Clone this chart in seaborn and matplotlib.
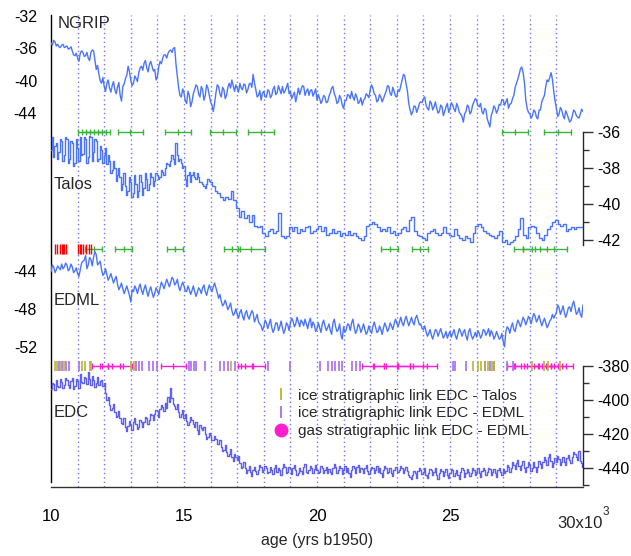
import numpy as np
import pandas as pd
import seaborn as sns
import matplotlib
matplotlib.use("Agg")
import matplotlib.pyplot as plt
from matplotlib.lines import Line2D

# ---------------- data ----------------
ages = np.round(np.linspace(10.0, 30.0, 201), 2)        # main samples
ages_mid = np.round(np.linspace(10.05, 29.95, 200), 2)  # in-between samples
ages_mid_talos = np.round(np.linspace(10.05, 15.95, 60), 2)

ngrip = [
 -35.3,-35.0,-35.7,-35.8,-35.6,-35.9,-35.7,-36.0,-36.3,-36.9,
 -37.2,-36.6,-36.5,-36.9,-37.2,-36.5,-36.3,-38.6,-39.2,-40.3,
 -40.7,-40.3,-40.9,-40.6,-41.1,-40.8,-41.8,-40.7,-39.7,-38.2,
 -39.9,-40.3,-39.7,-39.0,-38.2,-37.8,-38.4,-38.0,-38.2,-38.6,
 -39.5,-37.6,-37.2,-36.8,-36.6,-36.2,-36.0,-38.0,-40.9,-42.0,
 -41.5,-42.8,-41.8,-42.6,-41.1,-40.7,-42.0,-41.1,-41.8,-40.9,
 -42.6,-43.8,-41.5,-40.7,-42.0,-41.1,-41.8,-40.3,-39.9,-41.3,
 -40.9,-40.3,-41.1,-40.5,-41.1,-40.3,-39.2,-41.1,-41.8,-42.4,
 -41.3,-42.0,-41.3,-41.8,-40.7,-41.5,-41.1,-40.7,-41.3,-40.3,
 -41.3,-41.8,-42.6,-40.9,-41.1,-40.7,-41.3,-41.8,-41.1,-41.5,
 -42.4,-42.2,-42.4,-42.0,-42.6,-41.5,-40.7,-42.0,-42.6,-42.2,
 -43.4,-42.4,-41.8,-41.3,-42.4,-42.0,-42.6,-43.0,-42.2,-41.8,
 -41.1,-40.9,-41.8,-42.4,-42.0,-42.2,-41.3,-40.7,-41.8,-41.3,
 -42.0,-41.3,-39.9,-39.4,-41.3,-43.6,-43.8,-43.2,-43.4,-42.6,
 -42.2,-43.0,-43.6,-42.8,-43.2,-43.4,-43.8,-43.2,-43.8,-42.8,
 -43.4,-43.0,-43.8,-43.2,-44.1,-45.1,-43.8,-43.2,-43.8,-42.6,
 -42.4,-43.2,-43.8,-43.4,-44.7,-45.7,-43.8,-43.4,-43.6,-43.0,
 -42.4,-42.6,-43.4,-42.8,-41.8,-40.3,-39.2,-38.3,-40.3,-43.4,
 -44.1,-44.3,-43.8,-44.7,-43.6,-42.2,-40.7,-40.1,-39.0,-41.3,
 -43.4,-44.1,-43.6,-44.7,-44.1,-45.1,-44.3,-43.8,-44.5,-44.1,
 -43.8]

ngrip_mid = [
 -35.6,-35.2,-35.5,-35.9,-35.5,-35.8,-36.1,-35.8,-36.8,-36.6,
 -37.6,-36.3,-37.0,-36.5,-37.5,-36.2,-37.4,-38.1,-40.0,-39.6,
 -41.3,-39.9,-41.4,-40.1,-41.6,-40.2,-42.5,-40.4,-39.3,-38.9,
 -40.6,-39.4,-40.1,-38.4,-38.7,-37.5,-38.9,-37.6,-38.8,-39.9,
 -38.3,-37.9,-36.8,-37.2,-36.3,-36.5,-35.9,-39.5,-41.8,-41.0,
 -42.5,-41.3,-43.2,-41.6,-40.5,-41.6,-40.7,-42.4,-40.5,-41.8,
 -43.0,-42.8,-40.5,-41.6,-40.8,-42.2,-40.8,-40.9,-40.6,-40.5,
 -41.4,-40.9,-40.4,-41.5,-40.4,-40.8,-40.3,-42.0,-41.2,-41.5,
 -42.0,-41.1,-42.1,-41.0,-41.7,-40.6,-41.6,-41.5,-40.8,-41.6,
 -42.2,-41.4,-41.8,-41.7,-40.6,-41.8,-41.0,-41.2,-41.9,-41.0,
 -41.7,-42.8,-41.8,-42.7,-41.9,-40.9,-41.6,-42.8,-41.8,-43.0,
 -42.5,-41.7,-42.2,-42.0,-41.6,-42.8,-42.1,-42.4,-41.6,-42.1,
 -40.5,-41.6,-42.6,-41.7,-42.6,-41.7,-40.6,-41.6,-40.8,-41.9,
 -41.1,-40.6,-39.2,-40.4,-42.8,-44.2,-43.1,-43.9,-42.8,-42.7,
 -42.0,-43.4,-42.5,-43.6,-42.6,-44.0,-43.0,-44.3,-43.2,-43.9,
 -42.7,-43.5,-42.8,-43.9,-44.4,-44.1,-43.0,-44.1,-43.0,-42.2,
 -43.1,-42.8,-44.1,-43.6,-45.2,-44.3,-43.1,-44.0,-42.9,-42.3,
 -43.0,-42.2,-42.9,-42.2,-40.8,-39.8,-38.5,-39.0,-42.4,-43.9,
 -44.6,-43.6,-44.5,-43.6,-42.6,-41.8,-39.9,-39.6,-39.8,-42.5,
 -44.4,-43.3,-44.3,-43.7,-44.6,-44.9,-43.6,-44.3,-44.6,-43.5]

talos = [
 -37.0,-37.4,-36.6,-37.1,-36.5,-37.3,-36.4,-37.5,-36.6,-37.7,
 -36.9,-36.3,-37.2,-36.4,-37.4,-36.3,-37.1,-36.5,-37.5,-37.0,
 -37.3,-37.8,-37.6,-38.1,-38.0,-38.4,-38.5,-38.9,-39.0,-39.3,
 -38.8,-39.4,-38.9,-39.3,-38.8,-39.1,-38.6,-38.9,-38.5,-38.7,
 -38.4,-38.5,-38.2,-38.0,-37.8,-37.6,-37.5,-36.6,-37.6,-37.7,
 -37.9,-39.0,-38.2,-38.4,-38.5,-38.3,-38.8,-38.9,-39.1,-38.6,
 -38.8,-39.0,-39.3,-39.4,-39.6,-39.8,-39.6,-39.7,-39.3,-39.8,
 -40.2,-40.7,-40.4,-40.8,-40.6,-41.0,-40.6,-41.2,-41.3,-41.2,
 -41.6,-41.8,-41.5,-41.4,-41.6,-41.5,-40.5,-41.8,-41.9,-41.8,
 -41.3,-41.5,-41.3,-41.6,-41.4,-41.5,-41.3,-41.2,-41.6,-41.5,
 -41.4,-41.2,-41.5,-41.3,-41.7,-41.6,-41.4,-41.6,-41.5,-41.8,
 -41.6,-41.7,-41.5,-41.7,-41.6,-41.8,-41.9,-42.0,-41.8,-41.2,
 -41.1,-41.0,-41.1,-41.3,-41.5,-41.4,-41.5,-41.3,-41.6,-41.5,
 -41.7,-41.6,-41.4,-41.3,-41.5,-40.9,-40.7,-41.5,-41.7,-41.8,
 -41.9,-42.0,-41.6,-41.5,-41.4,-41.6,-41.7,-41.6,-41.3,-41.6,
 -41.7,-41.8,-41.4,-41.7,-41.9,-42.0,-41.8,-41.9,-42.1,-41.6,
 -41.2,-41.1,-41.3,-41.5,-41.6,-41.7,-41.8,-41.9,-41.7,-41.5,
 -42.1,-42.0,-42.2,-42.1,-42.0,-41.8,-41.4,-40.8,-41.7,-41.9,
 -41.3,-41.2,-41.3,-41.6,-41.9,-42.0,-41.7,-41.4,-41.2,-41.0,
 -40.9,-41.1,-41.2,-41.1,-41.5,-41.4,-41.3,-41.4,-41.3,-41.3,
 -41.3]

talos_mid = [
 -36.3,-36.8,-37.5,-36.4,-37.6,-36.3,-37.7,-36.5,-37.9,-36.4,
 -37.6,-37.3,-36.3,-37.7,-36.2,-37.6,-36.4,-37.6,-36.8,-37.7,
 -36.9,-37.3,-38.3,-37.6,-38.7,-38.0,-39.2,-38.3,-39.5,-38.5,
 -39.6,-38.4,-39.6,-38.4,-39.5,-38.3,-39.2,-38.3,-39.0,-38.3,
 -38.6,-38.1,-38.4,-37.7,-37.9,-37.3,-37.8,-37.3,-37.5,-38.0,
 -38.6,-38.4,-38.8,-38.2,-38.6,-38.5,-38.8,-39.0,-38.9,-38.7]

edml = [
 -44.1,-43.6,-43.9,-43.7,-43.3,-43.6,-43.4,-43.8,-43.6,-44.0,
 -44.3,-43.9,-43.0,-42.4,-43.4,-42.8,-42.6,-42.3,-43.2,-43.9,
 -44.3,-44.4,-44.7,-44.8,-44.9,-45.4,-45.7,-45.9,-46.0,-46.1,
 -47.3,-46.2,-45.9,-45.8,-46.0,-45.9,-46.2,-46.1,-46.3,-46.4,
 -46.1,-45.8,-45.5,-45.4,-45.3,-45.2,-44.9,-45.3,-45.7,-45.6,
 -45.6,-46.2,-46.0,-46.1,-46.2,-46.3,-46.0,-45.8,-46.2,-46.0,
 -45.9,-45.7,-45.8,-46.9,-47.2,-47.5,-47.6,-47.8,-48.2,-48.5,
 -48.6,-48.4,-48.8,-48.5,-48.8,-48.6,-48.5,-49.0,-49.4,-49.8,
 -49.9,-49.5,-49.6,-50.0,-50.1,-49.5,-49.9,-50.0,-50.2,-49.7,
 -49.5,-49.3,-49.6,-49.4,-49.2,-49.8,-49.6,-49.4,-50.0,-49.7,
 -50.1,-50.0,-49.6,-49.8,-50.0,-50.3,-49.5,-49.9,-50.2,-50.8,
 -49.9,-50.2,-49.7,-49.5,-50.0,-50.3,-49.9,-50.1,-50.2,-50.4,
 -50.3,-49.9,-49.9,-50.4,-50.2,-50.0,-49.9,-50.1,-49.8,-49.6,
 -49.5,-49.4,-49.5,-49.2,-49.3,-49.4,-49.4,-49.0,-49.2,-49.6,
 -50.2,-50.4,-50.6,-50.8,-50.7,-50.3,-50.5,-50.6,-50.8,-51.1,
 -50.4,-50.6,-50.8,-50.6,-50.4,-50.5,-50.9,-50.4,-50.8,-50.9,
 -51.0,-50.6,-50.8,-50.3,-50.5,-50.9,-50.6,-50.9,-50.8,-51.1,
 -51.5,-50.4,-50.1,-49.9,-50.2,-49.7,-49.5,-49.4,-49.2,-49.3,
 -49.1,-49.0,-48.8,-49.1,-49.3,-49.4,-49.5,-49.7,-49.1,-49.0,
 -48.4,-47.9,-48.2,-48.4,-48.5,-47.8,-47.6,-47.9,-48.4,-48.6,
 -47.6]

edml_mid = [
 -43.4,-44.2,-43.5,-43.9,-43.8,-43.2,-44.0,-43.3,-44.2,-43.7,
 -44.6,-43.2,-42.9,-43.8,-42.6,-43.5,-42.0,-43.4,-43.0,-44.5,
 -43.8,-45.0,-44.3,-45.3,-44.6,-46.0,-45.3,-46.4,-45.6,-46.6,
 -46.0,-45.6,-46.4,-45.4,-46.5,-45.5,-46.7,-45.7,-46.8,-45.8,
 -46.5,-45.2,-45.9,-44.9,-45.7,-44.7,-45.5,-44.9,-46.1,-45.2,
 -46.1,-45.6,-46.5,-45.6,-46.7,-45.8,-46.4,-45.5,-46.6,-45.5,
 -46.2,-45.3,-46.3,-46.5,-47.7,-47.1,-48.1,-47.4,-48.7,-48.0,
 -49.0,-48.1,-49.2,-48.2,-49.1,-48.2,-49.4,-48.6,-49.6,-50.3,
 -49.2,-50.1,-49.1,-50.5,-49.5,-50.3,-49.3,-50.6,-49.5,-50.3,
 -49.0,-49.9,-48.9,-49.9,-49.4,-49.1,-50.1,-49.0,-49.4,-50.4,
 -49.5,-50.5,-49.2,-50.3,-49.6,-50.7,-49.1,-50.4,-49.6,-51.2,
 -50.5,-49.6,-50.3,-49.1,-50.6,-49.6,-50.5,-49.6,-50.7,-49.8,
 -50.6,-49.4,-50.5,-49.8,-50.7,-49.5,-50.4,-49.5,-50.2,-49.1,
 -49.9,-48.9,-49.8,-48.8,-49.8,-48.9,-49.7,-48.7,-49.7,-50.1,
 -49.8,-50.9,-50.2,-51.2,-50.2,-50.9,-50.1,-51.1,-50.4,-50.7,
 -51.0,-50.2,-51.2,-50.1,-50.9,-50.2,-51.3,-50.1,-51.2,-50.5,
 -50.3,-51.1,-50.2,-50.8,-50.1,-50.3,-51.2,-50.4,-51.2,-50.6,
 -52.0,-49.9,-50.6,-49.5,-50.4,-49.2,-49.9,-48.9,-49.7,-48.8,
 -49.6,-48.5,-49.4,-48.7,-49.8,-49.0,-50.0,-49.3,-48.6,-48.7,
 -47.6,-48.6,-47.7,-48.9,-47.9,-48.3,-47.2,-48.6,-47.9,-48.9]

edc = [
 -394.0,-391.0,-388.5,-392.5,-389.5,-391.5,-388.5,-393.5,-387.5,-392.0,
 -389.0,-385.0,-390.5,-387.5,-384.0,-391.5,-388.5,-390.0,-391.5,-388.8,
 -390.0,-400.5,-403.5,-405.0,-407.5,-409.5,-411.0,-414.5,-416.0,-415.5,
 -415.2,-413.5,-414.2,-416.1,-413.0,-413.5,-411.0,-412.2,-409.3,-408.3,
 -407.0,-405.5,-404.4,-402.0,-398.6,-393.0,-402.5,-405.5,-407.3,-408.8,
 -410.8,-412.5,-413.2,-412.2,-416.1,-418.1,-415.2,-418.1,-420.0,-422.0,
 -421.0,-423.9,-423.0,-425.9,-427.9,-429.8,-430.8,-431.8,-433.7,-431.8,
 -435.7,-437.6,-439.6,-440.5,-441.5,-442.5,-441.5,-442.0,-441.5,-439.6,
 -441.5,-440.5,-442.5,-441.5,-440.5,-442.5,-441.5,-440.5,-439.6,-442.5,
 -441.0,-440.5,-441.5,-443.5,-442.0,-439.6,-442.5,-441.5,-440.5,-441.0,
 -441.5,-442.5,-440.5,-441.5,-443.5,-442.5,-440.5,-439.6,-441.5,-440.5,
 -441.5,-442.5,-443.5,-441.5,-440.5,-439.6,-442.5,-441.0,-440.5,-442.0,
 -441.5,-440.5,-441.5,-442.5,-443.5,-441.5,-440.5,-442.5,-443.5,-441.5,
 -439.6,-441.5,-440.5,-441.5,-442.0,-445.4,-444.5,-443.5,-442.0,-441.5,
 -442.5,-444.5,-443.5,-441.5,-442.5,-444.5,-443.5,-442.0,-442.5,-444.5,
 -443.0,-441.5,-443.5,-444.5,-442.5,-441.5,-443.5,-442.5,-443.0,-441.5,
 -442.5,-443.5,-442.0,-441.5,-442.5,-441.0,-442.5,-443.0,-441.5,-442.5,
 -441.0,-442.0,-439.6,-440.5,-438.6,-437.6,-439.0,-438.6,-440.0,-439.6,
 -438.6,-440.5,-439.6,-439.6,-438.0,-436.5,-435.5,-433.7,-436.0,-437.6,
 -436.6,-435.0,-437.0,-436.6,-434.5,-435.5,-433.7,-431.8,-435.7,-436.0,
 -439.6]

edc_mid = [
 -390.0,-394.5,-392.0,-388.0,-393.5,-387.5,-391.5,-389.0,-394.0,-388.0,
 -393.0,-389.5,-386.5,-391.0,-388.0,-386.0,-392.5,-387.0,-389.0,-392.0,
 -396.0,-398.5,-406.0,-402.5,-410.0,-406.5,-414.0,-411.0,-418.5,-412.5,
 -418.0,-411.0,-417.5,-412.0,-416.0,-410.5,-414.5,-408.5,-412.0,-406.0,
 -410.0,-403.5,-407.0,-405.0,-401.5,-399.0,-404.0,-402.5,-410.0,-406.0,
 -408.5,-415.0,-410.0,-414.5,-413.5,-420.0,-417.0,-416.0,-423.0,-419.5,
 -424.0,-421.5,-426.0,-424.0,-430.5,-427.0,-433.5,-429.0,-436.0,-434.0,
 -433.0,-440.5,-437.0,-443.5,-439.0,-445.0,-439.5,-444.0,-438.5,-442.5,
 -439.0,-443.5,-439.5,-444.0,-438.5,-440.0,-444.5,-438.0,-443.0,-439.5,
 -444.0,-438.5,-444.5,-440.0,-444.0,-438.0,-443.5,-439.0,-443.0,-438.5,
 -443.5,-439.0,-443.5,-439.5,-441.0,-444.0,-438.0,-443.0,-439.0,-444.0,
 -439.0,-440.0,-445.5,-439.0,-443.5,-438.5,-440.0,-443.5,-438.5,-444.0,
 -439.5,-443.5,-439.0,-440.0,-445.5,-439.0,-443.5,-440.0,-445.0,-439.5,
 -442.5,-439.0,-443.5,-439.5,-444.5,-447.0,-442.0,-446.0,-440.5,-444.0,
 -440.5,-446.0,-441.0,-444.5,-440.5,-446.5,-441.0,-445.0,-441.0,-446.0,
 -441.0,-445.0,-441.5,-446.5,-440.5,-445.5,-441.0,-445.0,-440.0,-444.5,
 -440.5,-445.5,-440.0,-444.5,-440.0,-444.5,-441.0,-445.5,-440.0,-444.5,
 -443.5,-438.5,-442.5,-436.5,-441.0,-435.5,-441.5,-436.0,-442.5,-437.0,
 -442.0,-437.0,-442.5,-436.0,-440.5,-434.0,-438.5,-432.0,-439.5,-434.5,
 -433.5,-438.5,-434.0,-438.5,-432.5,-437.5,-431.0,-434.0,-430.5,-437.5]

# stratigraphic link markers
talos_top_c = [11.45, 11.6, 11.75, 12.97, 14.78, 16.47, 17.9, 27.44, 29.05]
talos_top_hw = [0.45, 0.45, 0.45, 0.47, 0.5, 0.5, 0.5, 0.5, 0.5]
talos_bot_c = [11.6, 12.73, 14.66, 16.8, 17.53, 22.73, 23.88, 27.75, 28.2, 28.9]
talos_bot_hw = [0.32, 0.32, 0.31, 0.3, 0.5, 0.31, 0.31, 0.33, 0.45, 0.5]
red_ticks = [10.15, 10.24, 10.33, 10.4, 10.45, 10.5, 10.55,
             11.02, 11.08, 11.14, 11.2, 11.3, 11.42, 11.52]
olive_ticks = [10.14, 10.23, 10.36, 10.49, 11.15, 11.28, 11.45, 11.51, 13.01,
               13.12, 16.77, 25.85, 26.05, 26.18, 26.31, 26.44, 26.57, 26.64,
               28.09, 28.55, 28.68, 29.14]
purple_ticks = [10.3, 10.43, 10.58, 10.66, 11.04, 13.2, 13.3, 13.41, 13.67,
                13.83, 13.98, 15.2, 15.27, 15.37, 15.46, 15.79, 16.37, 16.5,
                16.64, 16.9, 18.14, 18.99, 20.1, 20.43, 20.56, 20.68, 20.82,
                20.94, 21.33, 21.47, 21.6, 25.1, 25.2, 25.62, 26.31, 26.51,
                26.64, 27.16, 27.36]
gas_c = [11.85, 12.3, 12.6, 14.6, 17.3, 17.6, 22.1, 22.6, 23.0, 23.6, 24.0,
         27.4, 27.9, 28.3, 28.6, 28.9, 29.2]
gas_hw = [0.3, 0.4, 0.45, 0.46, 0.27, 0.45, 0.42, 0.45, 0.5, 0.55, 0.5,
          0.27, 0.45, 0.5, 0.45, 0.45, 0.42]

major_x = [10, 15, 20, 25, 30]
x_labels = ["10", "15", "20", "25", ""]

def series(main, mid, mid_ages):
    df = pd.concat([pd.DataFrame({"age": ages, "val": main}),
                    pd.DataFrame({"age": mid_ages, "val": mid})])
    return df.sort_values("age").reset_index(drop=True)

df_ngrip = series(ngrip, ngrip_mid, ages_mid)
df_talos = series(talos, talos_mid, ages_mid_talos)
df_edml = series(edml, edml_mid, ages_mid)
df_edc = series(edc, edc_mid, ages_mid)

# ---------------- layout ----------------
W, H = 631, 556
X0, X1 = 51, 583      # pixel x of age 10 and 30
Y0, Y1 = 15, 487      # pixel y of plot top and bottom

sns.set_style("white")
plt.rcParams['font.family'] = ['Liberation Sans', 'DejaVu Sans']
plt.rcParams['axes.linewidth'] = 1.0

fig = plt.figure(figsize=(W / 100, H / 100), dpi=100)
rect = [X0 / W, 1 - Y1 / H, (X1 - X0) / W, (Y1 - Y0) / H]

def ylim_for(v_ref, p_ref, px_per_unit):
    top = v_ref + (p_ref - Y0) / px_per_unit
    bot = v_ref - (Y1 - p_ref) / px_per_unit
    return bot, top

# background axes: x axis, dotted lines, left spine
bg = fig.add_axes(rect)
bg.set_facecolor('none')
bg.set_xlim(10, 30)
bg.set_ylim(0, 1)
for s in ['top', 'right']:
    bg.spines[s].set_visible(False)
bg.spines['left'].set_bounds((Y1 - 482) / (Y1 - Y0), 1.0)
bg.spines['left'].set_color('black')
bg.spines['bottom'].set_color('#333333')
bg.set_yticks([])
bg.set_xticks(major_x)
bg.set_xticklabels(x_labels, fontsize=12)
bg.set_xticks(range(11, 30), minor=True)
bg.tick_params(axis='x', which='major', direction='out', length=8, width=1,
               pad=8, colors='#333333', labelcolor='black')
bg.tick_params(axis='x', which='minor', direction='out', length=5, width=1,
               colors='#333333')
for a in range(11, 30):
    bg.axvline(a, color='#7373ff', lw=1.0, ls=(0, (1, 2.2)), zorder=0)
bg.set_xlabel("age (yrs b1950)", fontsize=11.5, labelpad=6)

fig.text((X1 - 26) / W, 1 - 523 / H, "30x10", fontsize=12, ha='left', va='center')
fig.text((X1 + 20) / W, 1 - 512 / H, "3", fontsize=8.5, ha='left', va='center')

def panel(side, ylims):
    ax = fig.add_axes(rect, sharex=bg)
    ax.set_facecolor('none')
    ax.set_ylim(*ylims)
    for s in ['top', 'bottom', 'left', 'right']:
        ax.spines[s].set_visible(False)
    ax.tick_params(axis='x', which='both', bottom=False, labelbottom=False)
    if side == 'right':
        ax.yaxis.tick_right()
        ax.yaxis.set_label_position('right')
    ax.tick_params(axis='y', which='major', direction='out', length=7, width=1,
                   labelsize=11.5, pad=3, colors='#333333', labelcolor='black')
    ax.tick_params(axis='y', which='minor', direction='out', length=4, width=1,
                   colors='#333333')
    ax.set_xlabel("")
    ax.set_ylabel("")
    return ax

blue = '#4a74ff'
edc_col = '#5f5ff0'
LW = 1.0

# NGRIP
ax1 = panel('left', ylim_for(-32, 16, 8.1))
sns.lineplot(data=df_ngrip, x="age", y="val", ax=ax1, color=blue, lw=LW,
             estimator=None)
ax1.set_yticks([-32, -36, -40, -44])
ax1.set_yticks([-34, -38, -42, -46], minor=True)
ax1.set_yticklabels(["-32", "-36", "-40", "-44"])
ax1.text(10.25, -32.9, "NGRIP", fontsize=12, va='center', ha='left')

# Talos
ax2 = panel('right', ylim_for(-36, 132, 18))
sns.lineplot(data=df_talos, x="age", y="val", ax=ax2, color=blue, lw=LW,
             estimator=None, drawstyle='steps-mid')
ax2.spines['right'].set_visible(True)
ax2.spines['right'].set_bounds(-42.3, -36)
ax2.set_yticks([-36, -38, -40, -42])
ax2.set_yticks([-37, -39, -41], minor=True)
ax2.set_yticklabels(["-36", "-38", "-40", "-42"])
ax2.text(10.1, -38.9, "Talos", fontsize=12, va='center', ha='left')
ax2.errorbar(talos_top_c, [-36.0] * len(talos_top_c), xerr=talos_top_hw,
             fmt='|', color='#3cb43c', ms=4, capsize=2.5, lw=1, elinewidth=1)
ax2.errorbar(talos_bot_c, [-42.5] * len(talos_bot_c), xerr=talos_bot_hw,
             fmt='|', color='#3cb43c', ms=4, capsize=2.5, lw=1, elinewidth=1)
ax2.plot(red_ticks, [-42.5] * len(red_ticks), '|', color='red', ms=7, mew=1.0)

# EDML
ax3 = panel('left', ylim_for(-44, 270.7, 9.5))
sns.lineplot(data=df_edml, x="age", y="val", ax=ax3, color=blue, lw=LW,
             estimator=None)
ax3.set_yticks([-44, -48, -52])
ax3.set_yticks([-42, -46, -50, -54], minor=True)
ax3.set_yticklabels(["-44", "-48", "-52"])
ax3.text(10.1, -47.1, "EDML", fontsize=12, va='center', ha='left')

# EDC
ax4 = panel('right', ylim_for(-380, 365.5, 1.70))
sns.lineplot(data=df_edc, x="age", y="val", ax=ax4, color=edc_col, lw=LW,
             estimator=None, drawstyle='steps-mid')
ax4.spines['right'].set_visible(True)
ax4.spines['right'].set_bounds(-450, -380)
ax4.set_yticks([-380, -400, -420, -440])
ax4.set_yticks([-390, -410, -430, -450], minor=True)
ax4.set_yticklabels(["-380", "-400", "-420", "-440"])
ax4.text(10.1, -407.8, "EDC", fontsize=12, va='center', ha='left')
olive = '#b4b43c'
purple = '#a66cf0'
magenta = '#ff1ecd'
ax4.errorbar(gas_c, [-380.0] * len(gas_c), xerr=gas_hw, fmt='|',
             color=magenta, ms=4, capsize=2.5, lw=1, elinewidth=1)
ax4.plot(purple_ticks, [-380.0] * len(purple_ticks), '|', color=purple, ms=7, mew=1.2)
ax4.plot(olive_ticks, [-380.0] * len(olive_ticks), '|', color=olive, ms=7, mew=1.2)

for ax in (ax1, ax2, ax3, ax4):
    ax.set_xlabel("")
    ax.set_ylabel("")

handles = [Line2D([], [], ls='none', marker='|', color=olive, ms=9, mew=1.3),
           Line2D([], [], ls='none', marker='|', color=purple, ms=9, mew=1.3),
           Line2D([], [], ls='none', marker='o', color=magenta, ms=9)]
labels = ["ice stratigraphic link EDC - Talos",
          "ice stratigraphic link EDC - EDML",
          "gas stratigraphic link EDC - EDML"]
fig.legend(handles, labels, loc='upper left',
           bbox_to_anchor=(266 / W, 1 - 381 / H), frameon=False,
           fontsize=11, handlelength=1.0, handletextpad=0.6,
           labelspacing=0.25, borderpad=0.0)

fig.savefig("out.png", dpi=100, facecolor='white')
